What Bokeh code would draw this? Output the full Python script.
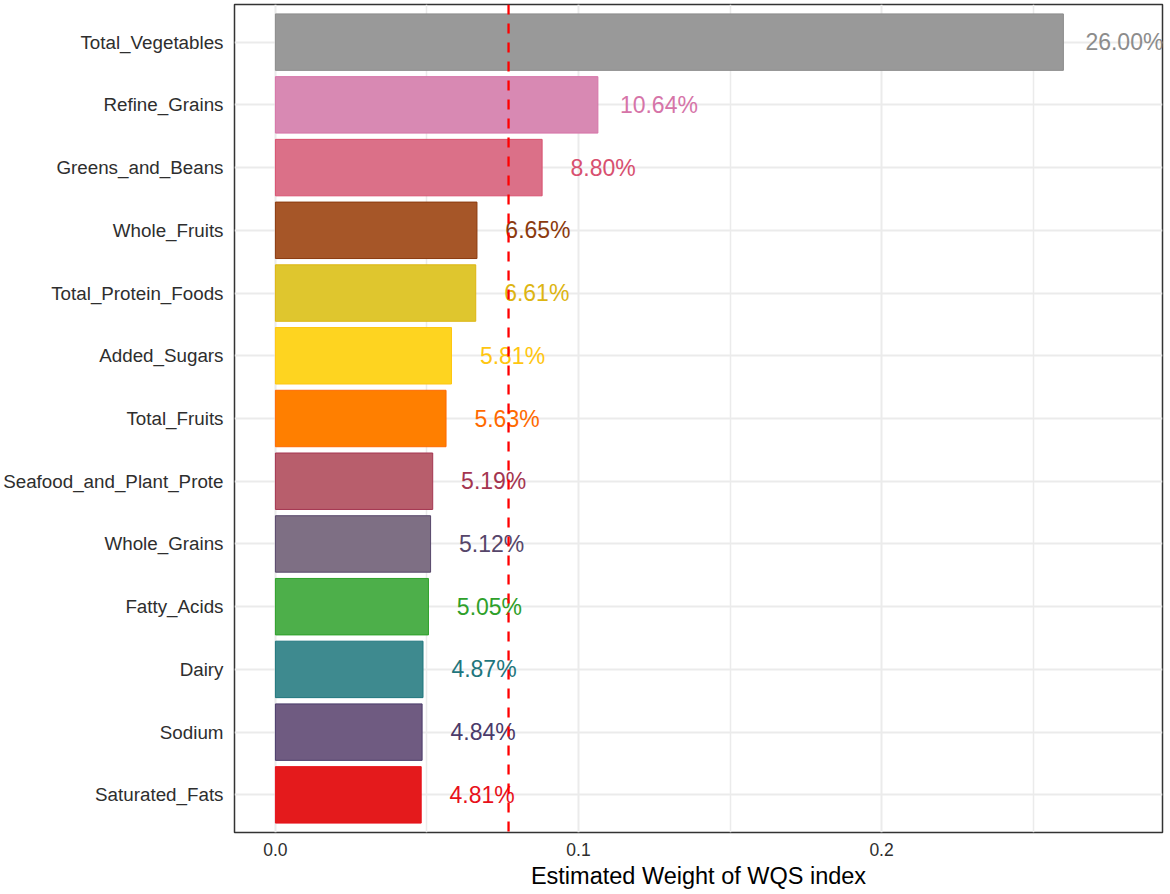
from bokeh.plotting import figure
from bokeh.models import (FactorRange, Range1d, FixedTicker, Span, ColumnDataSource,
                          NumeralTickFormatter)
from bokeh.embed import file_html
from bokeh.resources import INLINE
from bokeh.core.properties import value

categories = ["Total_Vegetables", "Refine_Grains", "Greens_and_Beans", "Whole_Fruits",
              "Total_Protein_Foods", "Added_Sugars", "Total_Fruits", "Seafood_and_Plant_Prote",
              "Whole_Grains", "Fatty_Acids", "Dairy", "Sodium", "Saturated_Fats"]
weights = [0.2600, 0.1064, 0.0880, 0.0665, 0.0661, 0.0581, 0.0563, 0.0519,
           0.0512, 0.0505, 0.0487, 0.0484, 0.0481]
fill_colors = ["#999999", "#D889B3", "#DB7088", "#A65628", "#DFC62E", "#FED420", "#FF7F00",
               "#B85E6C", "#7E6F84", "#4DAF4A", "#3E8A8F", "#6F5B81", "#E41A1C"]
text_colors = ["#8C8C8C", "#D674A8", "#D8506F", "#8B3A0E", "#DDB512", "#FFC610", "#FF6A00",
               "#A43550", "#56466A", "#2EA02A", "#1F767D", "#4A3A6A", "#E8101A"]
labels = [f"{w * 100:.2f}%" for w in weights]
x_ticks = [0.0, 0.1, 0.2]
x_minor_ticks = [0.05, 0.15, 0.25]

FONT = "Liberation Sans"

src = ColumnDataSource(dict(cat=categories, w=weights, fill=fill_colors,
                            tc=text_colors, lab=labels))

p = figure(
    frame_width=928, frame_height=828,
    min_border_left=0, min_border_right=7, min_border_top=4, min_border_bottom=56,
    y_range=FactorRange(factors=list(reversed(categories)), range_padding=0.1,
                        range_padding_units="absolute"),
    x_range=Range1d(-0.0135, 0.2927),
    output_backend="svg", toolbar_location=None,
)
p.background_fill_color = "white"
p.border_fill_color = "white"
p.outline_line_color = "#333333"
p.outline_line_width = 1.5

p.hbar(y="cat", left=0, right="w", height=0.9, fill_color="fill", line_color="tc",
       line_width=1, source=src)
p.text(x="w", y="cat", text="lab", x_offset=61, text_align="center",
       text_baseline="middle", text_color="tc", text_font=value(FONT),
       text_font_size="23px", source=src)

p.add_layout(Span(location=1 / len(categories), dimension="height", line_color="#FF0000",
                  line_dash="10 9", line_width=2.3))

# grids
p.xgrid.ticker = FixedTicker(ticks=x_ticks, minor_ticks=x_minor_ticks)
p.xgrid.grid_line_color = "#EBEBEB"
p.xgrid.grid_line_width = 2
p.xgrid.minor_grid_line_color = "#EBEBEB"
p.xgrid.minor_grid_line_width = 1.5
p.ygrid.grid_line_color = "#EBEBEB"
p.ygrid.grid_line_width = 2
for g in (p.xgrid, p.ygrid):
    g.level = "underlay"

# axes
p.xaxis.ticker = FixedTicker(ticks=x_ticks)
p.xaxis.formatter = NumeralTickFormatter(format="0.0")
for ax in (p.xaxis, p.yaxis):
    ax.axis_line_color = None
    ax.major_tick_line_color = None
    ax.minor_tick_line_color = None
    ax.major_tick_out = 0
    ax.major_tick_in = 0
    ax.minor_tick_out = 0
    ax.major_label_text_font = FONT
    ax.major_label_text_color = "#2E2E2E"
p.xaxis.major_label_text_font_size = "17.5px"
p.xaxis.major_label_standoff = 10
p.yaxis.major_label_text_font_size = "18.8px"
p.yaxis.major_label_standoff = 11
p.xaxis.axis_label = "Estimated Weight of WQS index"
p.xaxis.axis_label_text_font = FONT
p.xaxis.axis_label_text_font_size = "23.5px"
p.xaxis.axis_label_text_font_style = "normal"
p.xaxis.axis_label_text_color = "#000000"
p.xaxis.axis_label_standoff = 4

open("out.html", "w").write(file_html(p, INLINE))
